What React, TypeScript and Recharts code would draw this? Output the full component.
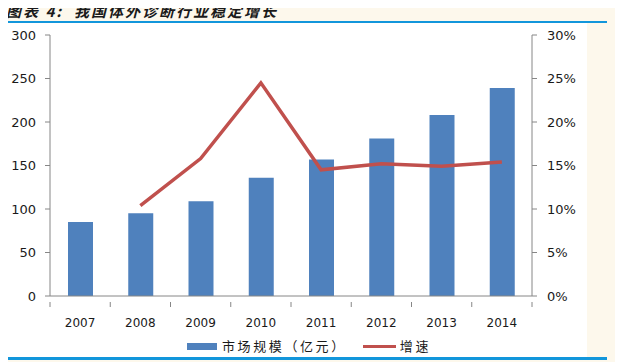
import React from "react";
import { ComposedChart, Bar, Line, XAxis, YAxis } from "recharts";

const years = ["2007", "2008", "2009", "2010", "2011", "2012", "2013", "2014"];
const marketSize = [85, 95, 109, 136, 157, 181, 208, 239];
const growth = [null, 10.4, 15.8, 24.5, 14.5, 15.2, 14.9, 15.4];
const leftTicks = [0, 50, 100, 150, 200, 250, 300];
const rightTicks = [0, 5, 10, 15, 20, 25, 30];

const data = years.map((y, i) => ({ year: y, size: marketSize[i], growth: growth[i] }));

const axisColor = "#868686";
const numFont = "'DejaVu Sans', Verdana, sans-serif";
const cjkFont = "'Noto Sans CJK SC', sans-serif";
const BAND = 482 / 8;

function CategoryTick(props: any) {
  const { x, y, payload, index, visibleTicksCount } = props;
  const axisY = y - 16;
  const last = index === (visibleTicksCount ?? years.length) - 1;
  return (
    <g>
      <line x1={x - BAND / 2} x2={x - BAND / 2} y1={axisY} y2={axisY + 5} stroke={axisColor} />
      {last && <line x1={x + BAND / 2} x2={x + BAND / 2} y1={axisY} y2={axisY + 5} stroke={axisColor} />}
      <text x={x} y={y} dy="0.71em" textAnchor="middle" fill="#1a1a1a" fontSize={12} fontFamily={numFont}>
        {payload.value}
      </text>
    </g>
  );
}

export default function App() {
  return (
    <div
      style={{
        position: "relative",
        width: 623,
        height: 362,
        marginLeft: -8,
        marginTop: -8,
        background: "#FDF8EC",
        overflow: "hidden",
      }}
    >
      <div
        style={{
          position: "absolute",
          left: 6,
          top: 2,
          fontFamily: cjkFont,
          fontWeight: 700,
          fontStyle: "italic",
          fontSize: 15,
          letterSpacing: 2,
          color: "#1a1a1a",
          whiteSpace: "nowrap",
          lineHeight: "18px",
        }}
      >
        图表 4:&nbsp; 我国体外诊断行业稳定增长
      </div>
      <div style={{ position: "absolute", left: 4, top: 21, width: 603, height: 2, background: "#1296DB" }} />
      <div style={{ position: "absolute", left: 4, top: 23, width: 583, height: 334, background: "#FFFFFF" }}>
        <ComposedChart
          width={583}
          height={334}
          data={data}
          margin={{ top: 12, right: 0, left: 0, bottom: 31 }}
        >
          <XAxis
            dataKey="year"
            tickLine={false}
            axisLine={{ stroke: axisColor }}
            height={30}
            tickMargin={16}
            interval={0}
            tick={<CategoryTick />}
          />
          <YAxis
            yAxisId="left"
            domain={[0, 300]}
            ticks={leftTicks}
            width={46}
            tickSize={5}
            tickMargin={9}
            stroke={axisColor}
            tick={{ fill: "#1a1a1a", fontSize: 13, fontFamily: numFont }}
          />
          <YAxis
            yAxisId="right"
            orientation="right"
            domain={[0, 30]}
            ticks={rightTicks}
            width={55}
            tickSize={5}
            tickMargin={10}
            stroke={axisColor}
            tickFormatter={(v) => `${v}%`}
            tick={{ fill: "#1a1a1a", fontSize: 13, fontFamily: numFont, textAnchor: "start" }}
          />
          <Bar
            yAxisId="left"
            dataKey="size"
            fill="#4F81BD"
            barSize={25}
            isAnimationActive={false}
          />
          <Line
            yAxisId="right"
            dataKey="growth"
            stroke="#C0504D"
            strokeWidth={3.5}
            dot={false}
            activeDot={false}
            connectNulls={false}
            isAnimationActive={false}
          />
        </ComposedChart>
      </div>
      <div
        style={{
          position: "absolute",
          left: 187,
          top: 337,
          display: "flex",
          alignItems: "center",
          fontFamily: cjkFont,
          fontSize: 13,
          color: "#1a1a1a",
          letterSpacing: 2.6,
          lineHeight: "18px",
          whiteSpace: "nowrap",
        }}
      >
        <span style={{ display: "inline-block", width: 30, height: 7, background: "#4F81BD", marginRight: 5 }} />
        <span>市场规模（亿元）</span>
        <span style={{ display: "inline-block", width: 33, height: 3, background: "#C0504D", marginLeft: 16, marginRight: 4 }} />
        <span>增速</span>
      </div>
      <div style={{ position: "absolute", left: 4, top: 357, width: 603, height: 3, background: "#1296DB" }} />
    </div>
  );
}
